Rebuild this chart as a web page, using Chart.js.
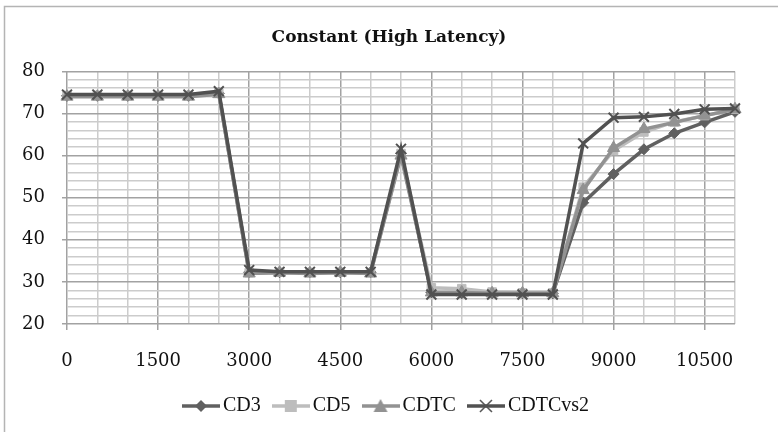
<!DOCTYPE html>
<html>
<head>
<meta charset="utf-8">
<script src="https://cdn.jsdelivr.net/npm/chart.js@4/dist/chart.umd.min.js"></script>
<style>
  html, body { margin: 0; padding: 0; background: #fff; }
  #wrap { width: 778px; height: 432px; position: relative; }
</style>
</head>
<body>
<div id="wrap"><canvas id="latencyChart" width="778" height="432"></canvas></div>
<script>
const xLabels = ['0', '500', '1000', '1500', '2000', '2500', '3000', '3500', '4000', '4500', '5000', '5500',
    '6000', '6500', '7000', '7500', '8000', '8500', '9000', '9500', '10000', '10500', '11000'];

const cd3 = [74.2, 74.2, 74.2, 74.2, 74.2, 74.8, 32.3, 32.3, 32.3, 32.3, 32.3, 60.5,
    27.5, 27.3, 27.3, 27.3, 27.3, 48.8, 55.6, 61.5, 65.3, 67.9, 70.4];
const cd5 = [74.3, 74.3, 74.3, 74.3, 74.3, 74.8, 32.2, 32.3, 32.2, 32.3, 32.2, 60.5,
    28.6, 28.4, 27.6, 27.4, 27.4, 52.5, 61.2, 65.6, 68.0, 69.5, 71.0];
const cdtc = [74.0, 74.0, 74.0, 74.0, 74.0, 74.6, 32.0, 32.2, 32.0, 32.2, 32.0, 60.0,
    27.5, 27.5, 27.3, 27.3, 27.3, 51.8, 61.8, 66.3, 67.9, 69.5, 71.0];
const cdtcVs2 = [74.5, 74.5, 74.5, 74.5, 74.5, 75.3, 32.8, 32.4, 32.4, 32.4, 32.4, 61.6,
    27.0, 27.0, 27.0, 27.0, 27.0, 62.9, 69.0, 69.2, 69.9, 71.0, 71.2];

const FONT = '"DejaVu Serif", "Liberation Serif", serif';
const LEGEND_FONT = '"Liberation Serif", "DejaVu Serif", serif';

// small line+marker swatch used as the legend point style
function legendSwatch(color, marker) {
    const c = document.createElement('canvas');
    c.width = 38; c.height = 16;
    const g = c.getContext('2d');
    g.strokeStyle = color;
    g.lineWidth = 3.5;
    g.beginPath(); g.moveTo(0, 8); g.lineTo(38, 8); g.stroke();
    g.fillStyle = color;
    if (marker === 'diamond') {
        g.beginPath(); g.moveTo(19, 2); g.lineTo(25, 8); g.lineTo(19, 14); g.lineTo(13, 8); g.closePath(); g.fill();
    } else if (marker === 'square') {
        g.fillRect(13, 2, 12, 12);
    } else if (marker === 'triangle') {
        g.beginPath(); g.moveTo(19, 1); g.lineTo(26, 14); g.lineTo(12, 14); g.closePath(); g.fill();
    } else {
        g.lineWidth = 1.5;
        g.beginPath(); g.moveTo(13, 2); g.lineTo(25, 14); g.moveTo(25, 2); g.lineTo(13, 14); g.stroke();
    }
    return c;
}

const series = [
    { label: 'CD3', data: cd3, color: '#606060', style: 'rectRot', radius: 5.5, marker: 'diamond', order: 4 },
    { label: 'CD5', data: cd5, color: '#bdbdbd', style: 'rect', radius: 6, marker: 'square', order: 3 },
    { label: 'CDTC', data: cdtc, color: '#929292', style: 'triangle', radius: 7, marker: 'triangle', order: 2 },
    { label: 'CDTCvs2', data: cdtcVs2, color: '#515151', style: 'crossRot', radius: 7, marker: 'cross', order: 1 }
];

const frame = {
    id: 'frame',
    beforeDraw(chart) {
        const ctx = chart.ctx;
        ctx.save();
        ctx.fillStyle = '#fff';
        ctx.fillRect(0, 0, chart.width, chart.height);
        ctx.strokeStyle = '#b4b4b4';
        ctx.lineWidth = 1.5;
        ctx.strokeRect(4.5, 6.5, 800, 500);
        ctx.restore();
    }
};

new Chart(document.getElementById('latencyChart'), {
    type: 'line',
    data: {
        labels: xLabels,
        datasets: series.map(s => ({
            label: s.label,
            data: s.data,
            order: s.order,
            yAxisID: 'y',
            borderColor: s.color,
            backgroundColor: s.color,
            borderWidth: 3.5,
            pointStyle: s.style,
            pointRadius: s.radius,
            pointBorderWidth: s.marker === 'cross' ? 2 : 1,
            pointBackgroundColor: s.color,
            pointBorderColor: s.color,
            tension: 0,
            fill: false,
            legendStyle: legendSwatch(s.color, s.marker)
        }))
    },
    options: {
        responsive: false,
        animation: false,
        layout: { padding: { left: 0, right: 0, top: 0, bottom: 6 } },
        plugins: {
            title: {
                display: true,
                text: 'Constant (High Latency)',
                color: '#111',
                font: { family: FONT, size: 17, weight: 'bold' },
                padding: { top: 27, bottom: 24 }
            },
            legend: {
                position: 'bottom',
                labels: {
                    usePointStyle: true,
                    pointStyleWidth: 24,
                    color: '#111',
                    font: { family: LEGEND_FONT, size: 20 },
                    padding: 18,
                    generateLabels(chart) {
                        return chart.data.datasets.map((d, i) => ({
                            text: d.label,
                            pointStyle: d.legendStyle,
                            fillStyle: d.borderColor,
                            strokeStyle: d.borderColor,
                            lineWidth: 0,
                            hidden: false,
                            datasetIndex: i,
                            fontColor: '#111'
                        }));
                    }
                }
            },
            tooltip: { enabled: false }
        },
        scales: {
            x: {
                offset: false,
                border: { display: false },
                grid: {
                    color: c => c.index % 3 === 0 ? '#a2a2a2' : '#cccccc',
                    tickColor: c => c.index % 3 === 0 ? '#a2a2a2' : 'rgba(0,0,0,0)',
                    lineWidth: 1.5,
                    tickLength: 6
                },
                ticks: {
                    autoSkip: false,
                    maxRotation: 0,
                    padding: 21,
                    color: '#111',
                    font: { family: FONT, size: 18 },
                    callback: (v, i) => i % 3 === 0 ? xLabels[i] : ''
                },
                afterFit: s => { s.height = 54; }
            },
            y: {
                min: 20,
                max: 80,
                border: { display: false },
                grid: {
                    color: c => c.tick && c.tick.value % 10 === 0 ? '#a2a2a2' : '#cccccc',
                    tickColor: c => c.tick && c.tick.value % 10 === 0 ? '#a2a2a2' : 'rgba(0,0,0,0)',
                    lineWidth: 1.5,
                    tickLength: 5
                },
                ticks: {
                    stepSize: 2,
                    autoSkip: false,
                    padding: 17,
                    color: '#111',
                    font: { family: FONT, size: 18 },
                    callback: v => v % 10 === 0 ? v : ''
                },
                afterFit: s => { s.width = 67; }
            },
            // empty right-hand axis that keeps the margin on the right of the plot
            gutter: {
                position: 'right',
                min: 20,
                max: 80,
                border: { display: false },
                grid: { display: false },
                ticks: { display: false },
                afterFit: s => { s.width = 43; }
            }
        }
    },
    plugins: [frame]
});
</script>
</body>
</html>
